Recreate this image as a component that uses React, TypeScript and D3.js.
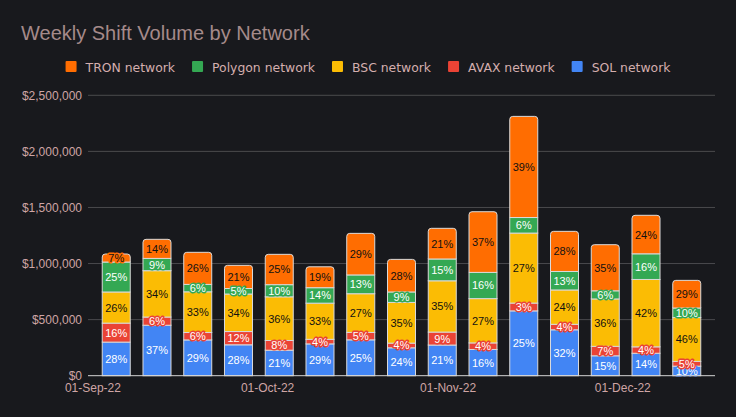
import { useEffect, useRef } from 'react';
import * as d3 from 'd3';

// week start dates (Mondays)
const weeks = [
  '2022-09-05', '2022-09-12', '2022-09-19', '2022-09-26', '2022-10-03',
  '2022-10-10', '2022-10-17', '2022-10-24', '2022-10-31', '2022-11-07',
  '2022-11-14', '2022-11-21', '2022-11-28', '2022-12-05', '2022-12-12',
];

// total shift volume per week, USD
const weeklyTotals = [
  1085000, 1216000, 1100000, 984000, 1082000, 971000, 1269000, 1037000,
  1314000, 1462000, 2312000, 1287000, 1168000, 1430000, 850000,
];

// share of each network in the weekly total, %
const solShare = [27.6, 37, 29, 28, 21, 29.2, 25.2, 24, 20.8, 16, 25, 31.8, 15.2, 14, 10];
const avaxShare = [15.6, 6, 6, 12, 8, 4.2, 5.2, 4, 8.8, 4, 3, 3.8, 7.2, 4, 5];
const bscShare = [25.6, 34, 33, 34, 36, 33.2, 27.2, 35, 34.8, 27, 27, 23.8, 36.2, 42, 46];
const polygonShare = [24.6, 9, 6, 5, 10, 14.2, 13.2, 9, 14.8, 16, 6, 12.8, 6.2, 16, 10];
const tronShare = [6.6, 14, 26, 21, 25, 19.2, 29.2, 28, 20.8, 37, 39, 27.8, 35.2, 24, 29];

const networks = ['SOL network', 'AVAX network', 'BSC network', 'Polygon network', 'TRON network'];
const shares = [solShare, avaxShare, bscShare, polygonShare, tronShare];
const colors = ['#4285f4', '#ea4335', '#fbbc04', '#34a853', '#ff6d01'];
const labelColors = ['#ffffff', '#ffffff', '#111111', '#ffffff', '#111111'];
const legendOrder = ['TRON network', 'Polygon network', 'BSC network', 'AVAX network', 'SOL network'];

const yTicks = [0, 500000, 1000000, 1500000, 2000000, 2500000];

const W = 736;
const H = 417;
const BG = '#18191d';

export default function App() {
  const svgRef = useRef<SVGSVGElement>(null);

  useEffect(() => {
    document.body.style.margin = '0';
    if (!svgRef.current) return;

    const svg = d3.select(svgRef.current);
    svg.selectAll('*').remove();

    const left = 88, right = 715, top = 95.3, bottom = 375.7;
    const parse = d3.timeParse('%Y-%m-%d');
    const dates = weeks.map(d => parse(d) as Date);

    const rows = dates.map((date, i) => {
      const row: any = { date, total: weeklyTotals[i] };
      networks.forEach((n, k) => { row[n] = weeklyTotals[i] * shares[k][i] / 100; });
      return row;
    });

    const pad = 4.85 * 864e5;
    const x = d3.scaleTime()
      .domain([new Date(dates[0].getTime() - pad), new Date(dates[dates.length - 1].getTime() + pad)])
      .range([left, right]);
    const y = d3.scaleLinear().domain([0, 2500000]).range([bottom, top]);

    svg.append('rect').attr('width', W).attr('height', H).attr('fill', BG);

    // title
    svg.append('text')
      .attr('x', 21).attr('y', 40)
      .attr('fill', '#a58a8a')
      .attr('font-family', 'Liberation Sans, Arial, sans-serif')
      .attr('font-size', 20)
      .text('Weekly Shift Volume by Network');

    // legend
    const legend = svg.append('g');
    let lx = 0;
    legendOrder.forEach(name => {
      const k = networks.indexOf(name);
      const g = legend.append('g').attr('transform', `translate(${lx},0)`);
      g.append('rect').attr('x', 0).attr('y', 61).attr('width', 11).attr('height', 11)
        .attr('rx', 1).attr('fill', colors[k]);
      const t = g.append('text').attr('x', 20).attr('y', 72)
        .attr('fill', '#d4aeae')
        .attr('font-family', 'DejaVu Sans, sans-serif')
        .attr('font-size', 12.4)
        .text(name);
      const tw = (t.node() as SVGTextElement).getComputedTextLength();
      lx += 20 + tw + 17;
    });
    const legendWidth = lx - 17;
    legend.attr('transform', `translate(${(W - legendWidth) / 2},0)`);

    // grid + y labels
    const grid = svg.append('g');
    yTicks.forEach(v => {
      if (v > 0) {
        grid.append('line')
          .attr('x1', left).attr('x2', right)
          .attr('y1', y(v)).attr('y2', y(v))
          .attr('stroke', '#4a4a4d').attr('stroke-width', 1);
      }
      grid.append('text')
        .attr('x', 82).attr('y', y(v))
        .attr('dy', '0.35em')
        .attr('text-anchor', 'end')
        .attr('fill', '#cfa5a5')
        .attr('font-family', 'Liberation Sans, Arial, sans-serif')
        .attr('font-size', 12)
        .text('$' + d3.format(',')(v));
    });

    // stacked bars
    const stack = d3.stack<any>().keys(networks);
    const series = stack(rows);
    const bw = 28;
    const r = 3;

    const bars = svg.append('g');
    rows.forEach((row, i) => {
      const bx = x(row.date) - bw / 2;
      series.forEach((s, k) => {
        const d = s[i];
        const y0 = y(d[0]);
        const y1 = y(d[1]);
        const h = y0 - y1;
        if (k === series.length - 1) {
          const p = d3.path();
          p.moveTo(bx, y0);
          p.lineTo(bx, y1 + r);
          p.quadraticCurveTo(bx, y1, bx + r, y1);
          p.lineTo(bx + bw - r, y1);
          p.quadraticCurveTo(bx + bw, y1, bx + bw, y1 + r);
          p.lineTo(bx + bw, y0);
          p.closePath();
          bars.append('path').attr('d', p.toString())
            .attr('fill', colors[k]).attr('stroke', '#dadada').attr('stroke-width', 1);
        } else {
          bars.append('rect')
            .attr('x', bx).attr('y', y1).attr('width', bw).attr('height', h)
            .attr('fill', colors[k]).attr('stroke', '#dadada').attr('stroke-width', 1);
        }
      });
    });

    // percentage labels
    const labels = svg.append('g');
    rows.forEach((row, i) => {
      series.forEach((s, k) => {
        const d = s[i];
        const pct = Math.round((d[1] - d[0]) / row.total * 100);
        labels.append('text')
          .attr('x', x(row.date))
          .attr('y', (y(d[0]) + y(d[1])) / 2)
          .attr('dy', '0.36em')
          .attr('text-anchor', 'middle')
          .attr('font-family', 'Liberation Sans, Arial, sans-serif')
          .attr('font-size', 11)
          .attr('fill', labelColors[k])
          .attr('stroke', colors[k])
          .attr('stroke-width', 3)
          .attr('stroke-linejoin', 'round')
          .attr('paint-order', 'stroke')
          .text(`${pct}%`);
      });
    });

    // baseline
    svg.append('line')
      .attr('x1', left).attr('x2', right)
      .attr('y1', bottom).attr('y2', bottom)
      .attr('stroke', '#d6d6d6').attr('stroke-width', 1);

    // x axis labels
    const fmt = d3.timeFormat('%d-%b-%y');
    x.ticks(d3.timeMonth.every(1) as any).forEach(t => {
      svg.append('text')
        .attr('x', x(t)).attr('y', 392)
        .attr('text-anchor', 'middle')
        .attr('fill', '#cfa5a5')
        .attr('font-family', 'Liberation Sans, Arial, sans-serif')
        .attr('font-size', 12)
        .text(fmt(t));
    });
  }, []);

  return <svg ref={svgRef} width={W} height={H} style={{ display: 'block' }} />;
}
